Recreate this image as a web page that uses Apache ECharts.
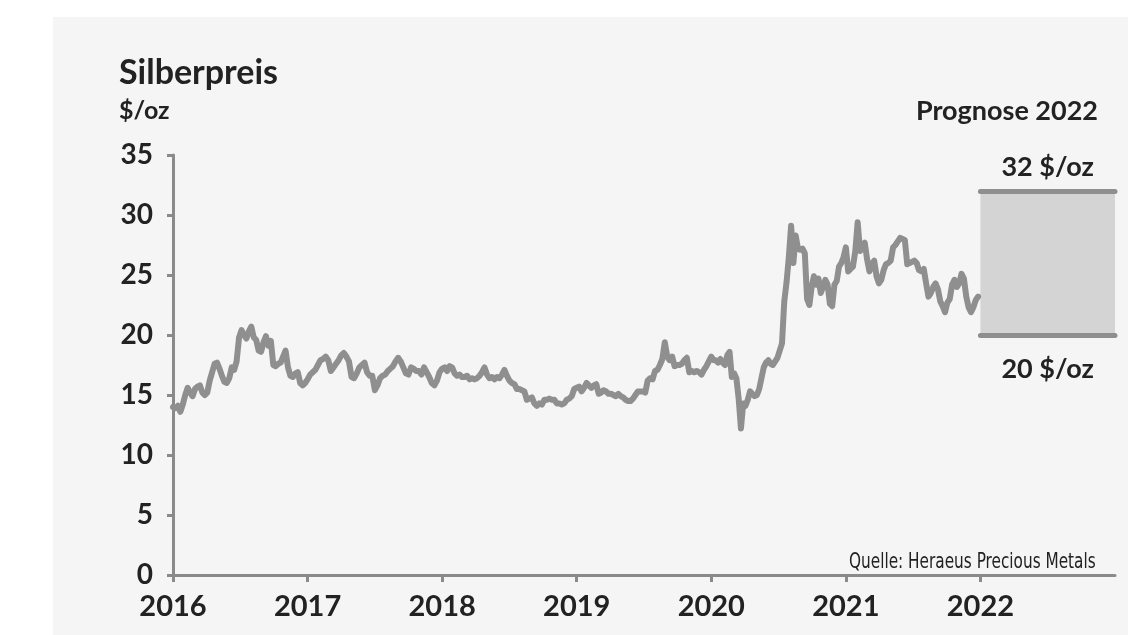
<!DOCTYPE html>
<html>
<head>
<meta charset="utf-8">
<script src="https://cdn.jsdelivr.net/npm/echarts@6/dist/echarts.min.js"></script>
<style>
html,body{margin:0;padding:0;background:#ffffff;}
#chart{width:1128px;height:635px;}
</style>
</head>
<body>
<div id="chart"></div>
<script>
// Weekly silver price, $/oz
const silver2016 = [14.0,13.9,14.1,13.6,14.2, 15.0,15.6,15.2,14.9, 15.5,15.7,15.8,15.2,15.0, 15.2,16.2,16.9,17.6, 17.7,17.2,16.6,16.1, 16.0,16.4,17.3,17.1,17.8, 19.8,20.4,20.0,19.7,20.3, 20.7,19.8,19.6,18.7,18.6, 19.4,19.9,19.1,19.5, 17.5,17.4,17.6,17.7, 18.2,18.7,17.3,16.6,16.5, 16.8,16.9,16.0,15.8,16.0];
const silver2017 = [16.3,16.7,16.9,17.1, 17.5,17.9,18.0,18.2, 17.9,17.0,17.3,17.6,17.9, 18.3,18.5,18.2,17.8, 16.5,16.4,16.8,17.3, 17.5,17.7,16.9,16.6,16.6, 15.4,15.8,16.4,16.6, 16.7,17.0,17.2,17.4,17.8, 18.1,17.8,17.3,16.8, 16.7,17.3,17.2,17.0, 17.0,16.7,17.3,16.9, 16.5,16.0,15.8,16.2,16.9];
const silver2018 = [17.2,17.3,17.0,17.4,17.3, 16.8,16.6,16.7,16.5, 16.5,16.6,16.3,16.4,16.3, 16.4,16.6,16.9,17.3,16.7, 16.4,16.5,16.3,16.5, 16.4,16.7,17.1,16.6,16.2, 16.0,15.9,15.5,15.5, 15.4,15.3,14.6,14.7,14.8, 14.3,14.1,14.3,14.2, 14.6,14.6,14.7,14.6, 14.6,14.3,14.3,14.2, 14.3,14.6,14.7,14.9,15.5];
const silver2019 = [15.6,15.7,15.3,15.6,16.0, 15.8,15.6,15.8,15.9, 15.1,15.2,15.4,15.3,15.1, 15.1,15.0,14.9,15.1, 14.9,14.8,14.6,14.5,14.5, 14.7,15.0,15.3,15.3, 15.3,15.2,16.2,16.4, 16.3,17.0,17.1,17.5,18.0, 19.4,18.2,17.9,18.2,17.4, 17.5,17.5,17.6,17.9, 18.1,16.9,17.0,16.9,17.0, 16.9,16.7,17.1,17.4,17.8];
const silver2020 = [18.2,17.9,17.9,17.7,18.0, 17.7,17.5,18.3,18.6,16.5, 16.8,16.4,14.7,12.2,14.3,14.1, 14.6,15.3,15.1,14.9, 15.0,15.5,16.4,17.3,17.7, 17.9,17.6,17.5,17.8, 18.1,18.7,19.3,22.8,24.4, 26.5,29.1,26.0,28.3,27.2, 27.1,27.2,26.8,23.0,22.5, 24.0,24.9,24.2,24.7,23.5, 24.0,24.6,24.2,22.6, 22.4,24.2,24.5,25.7,26.0,26.5];
const silver2021 = [27.3,25.3,25.5,25.7,27.0, 29.4,27.0,27.3,27.7,26.3, 25.3,25.9,26.2,24.9,24.3, 24.6,25.4,25.9,26.0,26.2, 27.3,27.5,27.8,28.1, 28.0,27.9,25.9,26.0,26.1, 26.2,26.0,25.4,25.3,25.5, 24.3,23.2,23.5,24.0, 24.3,23.8,22.8,22.4,21.9, 22.7,23.0,24.2,24.6,24.0, 24.3,25.1,24.7,23.2, 22.3,21.9,22.3,22.9,23.2];
const priceYears = [2016, 2017, 2018, 2019, 2020, 2021];
const priceByYear = [silver2016, silver2017, silver2018, silver2019, silver2020, silver2021];

const yearTicks = [2016, 2017, 2018, 2019, 2020, 2021, 2022];
const yTicks = [0, 5, 10, 15, 20, 25, 30, 35];
const forecastYear = 2022;
const forecastLow = 20;
const forecastHigh = 32;
const forecastLabel = 'Prognose 2022';
const unit = '$/oz';
const titleText = 'Silberpreis';
const sourceText = 'Quelle: Heraeus Precious Metals';

const priceData = [];
priceYears.forEach((yr, k) => {
  const arr = priceByYear[k];
  arr.forEach((v, i) => priceData.push([yr + i / arr.length, v]));
});

const FONT = 'Lato, "Noto Sans", sans-serif';
const TXT = '#222222';
const AX = '#8a8a8a';
const LINE = '#8f8f8f';

const chart = echarts.init(document.getElementById('chart'), null, {renderer: 'canvas'});
chart.setOption({
  animation: false,
  backgroundColor: '#ffffff',
  grid: {left: 173, right: 13, top: 155, bottom: 60, containLabel: false},
  xAxis: {
    type: 'value',
    min: yearTicks[0],
    max: forecastYear + 1,
    interval: 1,
    splitLine: {show: false},
    axisLine: {show: true, lineStyle: {color: AX, width: 3}},
    axisTick: {show: true, length: 7, lineStyle: {color: AX, width: 3}, customValues: yearTicks},
    axisLabel: {
      customValues: yearTicks,
      formatter: v => String(v),
      color: TXT, fontFamily: FONT, fontWeight: 'bold', fontSize: 29, margin: 17
    }
  },
  yAxis: {
    type: 'value',
    min: yTicks[0],
    max: yTicks[yTicks.length - 1],
    interval: 5,
    splitLine: {show: false},
    axisLine: {show: true, lineStyle: {color: AX, width: 3}},
    axisTick: {show: true, length: 6, lineStyle: {color: AX, width: 3}},
    axisLabel: {color: TXT, fontFamily: FONT, fontWeight: 'bold', fontSize: 28, margin: 20}
  },
  graphic: [
    {type: 'rect', z: -10, silent: true, shape: {x: 53, y: 17, width: 1075, height: 618}, style: {fill: '#f5f5f5'}},
    {type: 'text', left: 119, top: 56, style: {text: titleText, font: 'bold 34px ' + FONT, fill: TXT}},
    {type: 'text', left: 119, top: 98, style: {text: unit, font: 'bold 25px ' + FONT, fill: TXT}},
    {type: 'text', right: 30, top: 98, style: {text: forecastLabel, font: 'bold 27px ' + FONT, fill: TXT}},
    {type: 'text', x: 849, y: 552, scaleX: 0.81, style: {text: sourceText, font: '21px "Liberation Sans Narrow", "DejaVu Sans Condensed", sans-serif', fill: TXT}}
  ],
  series: [
    {
      type: 'line',
      data: priceData,
      showSymbol: false,
      symbol: 'none',
      lineStyle: {color: LINE, width: 6, join: 'round', cap: 'round'},
      z: 3
    },
    {
      type: 'line',
      data: [],
      z: 2,
      markArea: {
        silent: true,
        itemStyle: {color: '#d4d4d4'},
        data: [[{coord: [forecastYear, forecastLow]}, {coord: [forecastYear + 1, forecastHigh]}]]
      },
      markLine: {
        silent: true,
        symbol: 'none',
        lineStyle: {color: LINE, width: 5, type: 'solid', cap: 'round'},
        label: {show: true, color: TXT, fontFamily: FONT, fontWeight: 'bold', fontSize: 27},
        data: [
          [{coord: [forecastYear, forecastHigh], label: {position: 'insideMiddleTop', distance: 10, formatter: forecastHigh + ' ' + unit}},
           {coord: [forecastYear + 1, forecastHigh]}],
          [{coord: [forecastYear, forecastLow], label: {position: 'insideMiddleBottom', distance: 21, formatter: forecastLow + ' ' + unit}},
           {coord: [forecastYear + 1, forecastLow]}]
        ]
      }
    }
  ]
});
</script>
</body>
</html>
